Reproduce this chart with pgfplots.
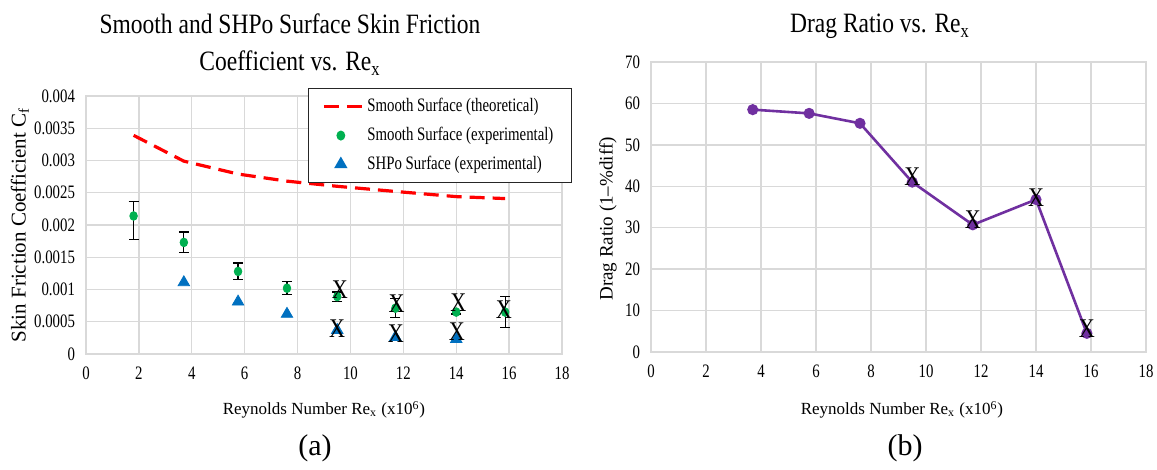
\documentclass[border=0pt]{standalone}
\usepackage{fontspec}
\setmainfont{Liberation Serif}
\newfontfamily\cfont{Liberation Serif}[FakeStretch=0.78]
\newfontfamily\tfont{Liberation Serif}[FakeStretch=0.84]
\newfontfamily\xfont{Liberation Serif}[FakeStretch=0.82]
\usepackage{pgfplots}
\pgfplotsset{compat=1.18}
\definecolor{redline}{HTML}{FF0000}
\definecolor{smoothgreen}{HTML}{00B050}
\definecolor{shpoblue}{HTML}{0070C0}
\definecolor{dragpurple}{HTML}{7030A0}
\definecolor{gridgray}{HTML}{D9D9D9}

\pgfplotsset{
  xlsx/.style={
    scale only axis,
    axis line style={draw=gridgray, line width=0.7pt},
    grid=major,
    major grid style={draw=gridgray, line width=0.7pt},
    major tick length=0pt,
    tick label style={font=\cfont\fontsize{9.5}{11}\selectfont},
    /pgf/number format/assume math mode=true,
    xmin=0, xmax=18, xtick={0,2,4,6,8,10,12,14,16,18},
    xticklabel style={yshift=-3pt},
    yticklabel style={xshift=-2pt},
    xlabel={Reynolds Number Re\textsubscript{x} (x10\textsuperscript{6})},
    xlabel style={font=\fontsize{8.5}{10}\selectfont, anchor=base},
  },
  dashleg/.style={legend image code/.code={\draw[##1] (0pt,0pt) -- (19pt,0pt);}},
  xmarks/.style={draw=none, mark=none, forget plot,
    nodes near coords={\xfont\fontsize{13.5}{13.5}\selectfont X},
    every node near coord/.append style={text=black, anchor=center, inner sep=0pt}},
}

\begin{document}
\begin{tikzpicture}
\useasboundingbox (0,0) rectangle (578.5pt,-235pt);

% (a) skin friction coefficient
\begin{axis}[xlsx, at={(43pt,-177pt)}, anchor=south west,
  width=238pt, height=129pt,
  ymin=0, ymax=0.004,
  ytick={0,0.0005,0.001,0.0015,0.002,0.0025,0.003,0.0035,0.004},
  yticklabels={0,0.0005,0.001,0.0015,0.002,0.0025,0.003,0.0035,0.004},
  scaled y ticks=false,
  xlabel style={at={(axis description cs:0.5,-0.236)}},
  ylabel={Skin Friction Coefficient C\textsubscript{f}},
  ylabel style={at={(axis description cs:-0.139,0.5)}, anchor=center,
    font=\fontsize{10.5}{12}\selectfont},
  legend style={at={(1.021,1.031)}, anchor=north east, draw=black!85,
    line width=0.6pt, font=\cfont\fontsize{9.5}{11}\selectfont,
    row sep=2.2pt, inner xsep=7pt, inner ysep=3pt, cells={anchor=west}},
]
\addplot[redline, line width=1.6pt, dash pattern=on 7.5pt off 4pt, mark=none, dashleg]
  coordinates {(1.8,0.00339) (3.7,0.00299) (5.75,0.00279) (7.6,0.00268)
    (9.5,0.0026) (11.7,0.00252) (14.0,0.00244) (15.85,0.00241)};
\addlegendentry{Smooth Surface (theoretical)}

\addplot[only marks, mark=*, mark size=1.9pt, color=smoothgreen,
  mark options={draw=smoothgreen, fill=smoothgreen, yscale=1.15},
  error bars/.cd, y dir=both, y explicit,
  error bar style={black, line width=0.6pt},
  error mark options={rotate=90, black, mark size=2.5pt, line width=0.6pt}]
  coordinates {
    (1.8,0.00214) += (0,0.00022) -= (0,0.00036)
    (3.7,0.00173) +- (0,0.00016)
    (5.75,0.00128) +- (0,0.00013)
    (7.6,0.00102) +- (0,0.0001)
    (9.5,0.00089) +- (0,0.00007)
    (11.7,0.00071) +- (0,0.00015)
    (14.0,0.00065) +- (0,0.00003)
    (15.85,0.00065) +- (0,0.00024)
  };
\addlegendentry{Smooth Surface (experimental)}

\addplot[only marks, mark=triangle*, mark size=3.3pt, color=shpoblue,
  mark options={draw=shpoblue, fill=shpoblue}]
  coordinates {(3.7,0.00111) (5.75,0.00081) (7.6,0.00062) (9.5,0.00037)
    (11.7,0.00026) (14.0,0.00023)};
\addlegendentry{SHPo Surface (experimental)}

\addplot[xmarks] coordinates {(9.6,0.00099) (11.75,0.00078) (14.08,0.00079)
  (15.8,0.00069) (9.5,0.0004) (11.72,0.00031) (14.02,0.00034)};
\end{axis}

% (b) drag ratio
\begin{axis}[xlsx, at={(325.5pt,-176pt)}, anchor=south west,
  width=247.5pt, height=145pt,
  ymin=0, ymax=70, ytick={0,10,20,30,40,50,60,70},
  xlabel style={at={(axis description cs:0.507,-0.217)}},
  ylabel={Drag Ratio (1--\%diff)},
  ylabel style={at={(axis description cs:-0.087,0.459)}, anchor=center,
    font=\fontsize{9.5}{11}\selectfont},
]
\addplot[dragpurple, line width=1.3pt, mark=*, mark size=2.1pt,
  mark options={fill=dragpurple}]
  coordinates {(3.7,58.5) (5.75,57.6) (7.6,55.2) (9.5,41) (11.7,30.7)
    (14.0,36.8) (15.85,4.5)};
\addplot[xmarks] coordinates {(9.5,42.3) (11.7,32) (14.0,37.2) (15.85,5.6)};
\end{axis}

\node[font=\tfont\fontsize{14}{16}\selectfont, anchor=base] at (145pt,-17pt)
  {Smooth and SHPo Surface Skin Friction};
\node[font=\tfont\fontsize{14}{16}\selectfont, anchor=base] at (145pt,-35.5pt)
  {Coefficient vs. Re\textsubscript{x}};
\node[font=\tfont\fontsize{14}{16}\selectfont, anchor=base] at (440pt,-16.5pt)
  {Drag Ratio vs. Re\textsubscript{x}};
\node[font=\fontsize{15}{17}\selectfont, anchor=base] at (157.5pt,-227.5pt) {(a)};
\node[font=\fontsize{15}{17}\selectfont, anchor=base] at (452.5pt,-227.5pt) {(b)};
\end{tikzpicture}
\end{document}
